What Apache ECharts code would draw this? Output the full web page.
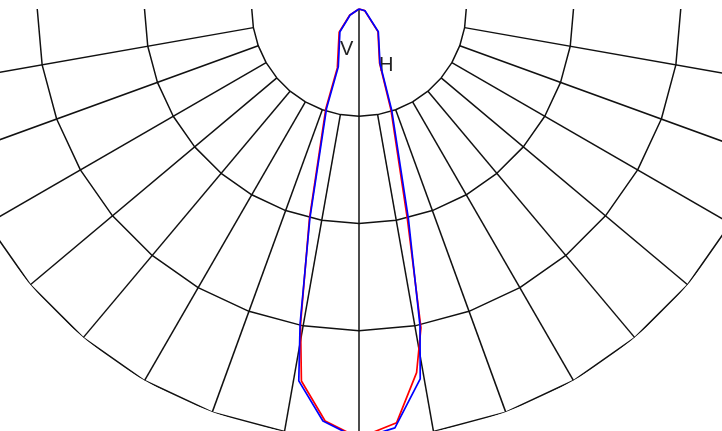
<!DOCTYPE html>
<html>
<head>
<meta charset="utf-8">
<script src="https://cdn.jsdelivr.net/npm/echarts@6.0.0/dist/echarts.min.js"></script>
<style>
  html, body { margin: 0; padding: 0; background: #fff; }
  #chart { width: 722px; height: 431px; }
</style>
</head>
<body>
<div id="chart"></div>
<script>
// grid of the photometric diagram (angle 0 = straight down, negative = left)
const ringValues = [100, 200, 300, 400];
const ringAngles = [-90, -80, -70, -60, -50, -40, -30, -20, -10, 0, 10, 20, 30, 40, 50, 60, 70, 80, 90];
const spokeAngles = [-80, -70, -60, -50, -40, -30, -20, -10, 10, 20, 30, 40, 50, 60, 70, 80];

// [angle, intensity]
const redCurve = [
  [-90, 0], [-56, 10.5], [-40.5, 28.5], [-20.2, 58.5], [-18.4, 98], [-13.3, 201],
  [-10.5, 299], [-8.8, 351], [-4.7, 385.4], [0, 400],
  [5.2, 387.3], [9.0, 343.3], [11.0, 302.8], [13.0, 200], [17.6, 98.5], [20.8, 54],
  [40, 27.5], [74, 5.5], [90, 0]
];
const blueCurve = [
  [-90, 0], [-56, 10], [-40, 27.7], [-19.7, 57.3], [-18.1, 97.3], [-13.2, 200.6],
  [-10.6, 298.6], [-9.2, 351.2], [-5.0, 385.6], [0, 401],
  [4.9, 392], [9.4, 349.5], [10.9, 300.8], [13.25, 201], [17.9, 99.2], [21.1, 54.4],
  [40.4, 27.8], [74, 5.8], [90, 0]
];

const chart = echarts.init(document.getElementById('chart'));

const gridStyle = { color: '#111', width: 1.5 };

function gridSeries(data) {
  return {
    type: 'line',
    coordinateSystem: 'polar',
    data: data,
    symbol: 'none',
    silent: true,
    clip: false,
    lineStyle: gridStyle,
    z: 1
  };
}

const series = [];
ringValues.forEach(r => {
  series.push(gridSeries(ringAngles.map(a => [r, a])));
});
spokeAngles.forEach(a => {
  series.push(gridSeries([[ringValues[0], a], [ringValues[ringValues.length - 1], a]]));
});
series.push(gridSeries([[0, 0], [ringValues[ringValues.length - 1], 0]]));

series.push({
  type: 'line',
  coordinateSystem: 'polar',
  data: redCurve.map(p => [p[1], p[0]]),
  symbol: 'none',
  clip: false,
  lineStyle: { color: '#ff0000', width: 1.7 },
  z: 3
});
series.push({
  type: 'line',
  coordinateSystem: 'polar',
  data: blueCurve.map(p => [p[1], p[0]]),
  symbol: 'none',
  clip: false,
  lineStyle: { color: '#0000ff', width: 1.7 },
  z: 4
});

const option = {
  animation: false,
  backgroundColor: '#fff',
  polar: {
    center: [359, 9],
    radius: 429
  },
  angleAxis: {
    type: 'value',
    min: -180,
    max: 180,
    startAngle: 90,
    clockwise: false,
    show: false
  },
  radiusAxis: {
    type: 'value',
    min: 0,
    max: 400,
    show: false
  },
  graphic: [
    {
      type: 'text',
      left: 340,
      top: 39,
      style: { text: 'V', fontSize: 20, fontFamily: 'Liberation Sans', fill: '#222' }
    },
    {
      type: 'text',
      left: 379,
      top: 55,
      style: { text: 'H', fontSize: 20, fontFamily: 'Liberation Sans', fill: '#222' }
    }
  ],
  series: series
};

chart.setOption(option);
</script>
</body>
</html>
